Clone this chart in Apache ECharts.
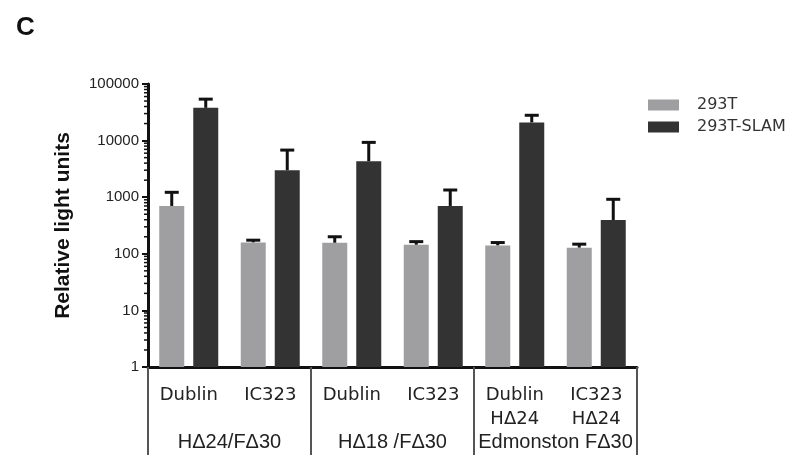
<!DOCTYPE html>
<html>
<head>
<meta charset="utf-8">
<script src="https://cdn.jsdelivr.net/npm/echarts@6/dist/echarts.min.js"></script>
<style>html,body{margin:0;padding:0;background:#fff}#c{width:798px;height:464px}</style>
</head>
<body>
<div id="c"></div>
<script>
var categories = ['Dublin', 'IC323', 'Dublin', 'IC323', 'Dublin\nHΔ24', 'IC323\nHΔ24'];
var groups = ['HΔ24/FΔ30', 'HΔ18 /FΔ30', 'Edmonston FΔ30'];
var seriesNames = ['293T', '293T-SLAM'];
var mean293T = [700, 158, 156, 144, 140, 128];
var err293T = [1220, 174, 200, 164, 158, 148];
var meanSLAM = [37900, 2980, 4300, 700, 20900, 396];
var errSLAM = [54000, 6800, 9300, 1340, 28000, 918];
var yTicks = [1, 10, 100, 1000, 10000, 100000];
var minorTickValues = [];
[1, 10, 100, 1000, 10000].forEach(function (d) {
  for (var k = 2; k <= 9; k++) minorTickValues.push(d * k);
});

var BAR_W = 25, BAR_GAP = 9;
var colors = ['#9f9fa1', '#333333'];

function errSeries(means, errs, sign) {
  return {
    type: 'custom',
    xAxisIndex: 0, yAxisIndex: 0,
    silent: true, z: 1,
    data: means.map(function (m, i) { return [i, m, errs[i]]; }),
    encode: { x: 0, y: [1, 2] },
    renderItem: function (params, api) {
      var off = sign * (BAR_W + BAR_GAP) / 2;
      var top = api.coord([api.value(0), api.value(2)]);
      var base = api.coord([api.value(0), api.value(1)]);
      var x = top[0] + off;
      return {
        type: 'group',
        children: [
          { type: 'line', shape: { x1: x, y1: base[1], x2: x, y2: top[1] }, style: { stroke: '#111', lineWidth: 3 } },
          { type: 'line', shape: { x1: x - 7, y1: top[1], x2: x + 7, y2: top[1] }, style: { stroke: '#111', lineWidth: 3 } }
        ]
      };
    }
  };
}

var chart = echarts.init(document.getElementById('c'), null, { renderer: 'canvas' });
chart.setOption({
  animation: false,
  backgroundColor: '#fff',
  color: colors,
  title: {
    text: 'C', left: 11, top: 10,
    textStyle: { fontFamily: 'Liberation Sans', fontWeight: 'bold', fontSize: 26, color: '#111' }
  },
  legend: {
    orient: 'vertical', left: 643, top: 92,
    itemWidth: 31, itemHeight: 11, itemGap: 6,
    icon: 'rect',
    data: seriesNames,
    textStyle: { fontFamily: 'DejaVu Sans', fontSize: 16, color: '#333', padding: [0, 0, 0, 13] }
  },
  grid: { left: 148, right: 161, top: 84, bottom: 97, containLabel: false },
  xAxis: [
    {
      type: 'category', data: categories, position: 'bottom',
      axisLine: { lineStyle: { color: '#111', width: 3 } },
      axisTick: { alignWithLabel: true, length: 6, lineStyle: { color: '#111', width: 2 } },
      axisLabel: { interval: 0, margin: 16, fontFamily: 'DejaVu Sans', fontSize: 18, color: '#222', lineHeight: 24 }
    },
    {
      type: 'category', data: groups, position: 'bottom',
      axisLine: { show: false },
      axisTick: { show: true, interval: 0, alignWithLabel: false, length: 88, lineStyle: { color: '#555', width: 2 } },
      axisLabel: { interval: 0, margin: 65, fontFamily: 'Liberation Sans', fontSize: 20, color: '#222' }
    }
  ],
  yAxis: [
    {
      type: 'log', logBase: 10, min: 1, max: 100000,
      name: 'Relative light units', nameLocation: 'middle', nameGap: 74, nameRotate: 90,
      nameTextStyle: { fontFamily: 'Liberation Sans', fontWeight: 'bold', fontSize: 21, color: '#111' },
      axisLine: { show: true, lineStyle: { color: '#111', width: 3 } },
      axisTick: { show: true, length: 6, lineStyle: { color: '#111', width: 2 } },
      splitLine: { show: false },
      axisLabel: {
        margin: 9, fontFamily: 'Liberation Sans', fontSize: 15, color: '#222',
        formatter: function (v) { return String(Math.round(v)); }
      }
    }
  ],
  series: [
    {
      name: seriesNames[0], type: 'bar', data: mean293T, barWidth: BAR_W, barGap: (BAR_GAP / BAR_W * 100) + '%',
      itemStyle: { color: colors[0] }, z: 2
    },
    {
      name: seriesNames[1], type: 'bar', data: meanSLAM, barWidth: BAR_W,
      itemStyle: { color: colors[1] }, z: 2
    },
    errSeries(mean293T, err293T, -1),
    errSeries(meanSLAM, errSLAM, 1),
    {
      type: 'custom', silent: true, z: 3,
      xAxisIndex: 0, yAxisIndex: 0,
      data: minorTickValues.map(function (v) { return [0, v]; }),
      encode: { x: 0, y: 1 },
      renderItem: function (params, api) {
        var p = api.coord([api.value(0), api.value(1)]);
        var x0 = params.coordSys.x;
        return { type: 'line', shape: { x1: x0 - 4, y1: p[1], x2: x0, y2: p[1] }, style: { stroke: '#111', lineWidth: 1.5 } };
      }
    }
  ]
});
</script>
</body>
</html>
